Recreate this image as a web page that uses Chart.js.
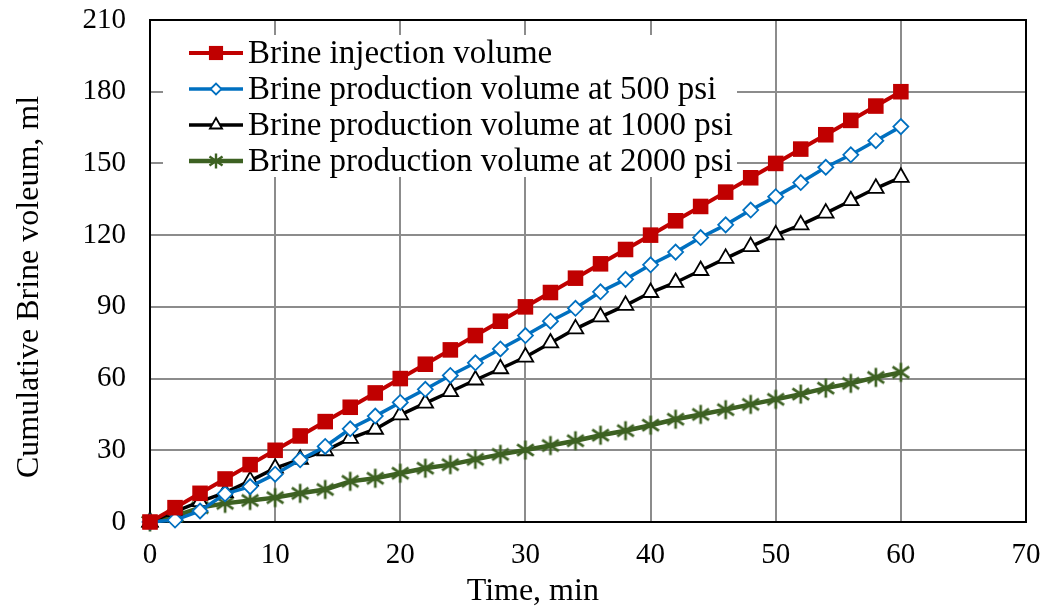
<!DOCTYPE html>
<html>
<head>
<meta charset="utf-8">
<script src="https://cdn.jsdelivr.net/npm/chart.js@4/dist/chart.umd.min.js"></script>
<style>
	body { margin: 0; background: #fff; }
	#wrap { width: 1046px; height: 614px; }
</style>
</head>
<body>
<div id="wrap"><canvas id="chart01"></canvas></div>
<script>
const minutes = [0, 2, 4, 6, 8, 10, 12, 14, 16, 18, 20, 22, 24, 26, 28, 30, 32, 34, 36, 38, 40, 42, 44, 46, 48, 50, 52, 54, 56, 58, 60];

const injection = [0, 6, 12, 18, 24, 30, 36, 42, 48, 54, 60, 66, 72, 78, 84, 90, 96, 102, 108, 114, 120, 126, 132, 138, 144, 150, 156, 162, 168, 174, 180];
const prod500 = [0, 0.8, 4.6, 11.8, 14.8, 20, 26, 31.6, 39, 44.3, 50, 55.5, 61.3, 66.6, 72.4, 78, 84, 89.4, 96.3, 101.5, 107.6, 112.9, 119, 124.3, 130.5, 136.1, 142, 148.4, 153.6, 159.5, 165.4];
const prod1000 = [0, 4.3, 8.5, 12.3, 17.2, 22.5, 26.2, 29.8, 35, 38.8, 44.8, 49.7, 54.5, 59.4, 64.1, 69, 74.9, 80.8, 85.8, 90.6, 96, 100.2, 105.2, 110.3, 115.2, 120.1, 124.3, 129.2, 134.4, 139.6, 144.2];
const prod2000 = [0, 2.5, 6, 7.8, 9, 10.2, 12, 13.6, 17, 18.3, 20.4, 22.5, 24, 26.2, 28.3, 30.1, 32, 34, 36.3, 38.2, 40.5, 43, 45, 47, 49.2, 51.3, 53.5, 56, 58, 60.5, 62.6];

const seriesNames = [
	"Brine injection volume",
	"Brine production volume at 500 psi",
	"Brine production volume at 1000 psi",
	"Brine production volume at 2000 psi",
];

const FONT = "'Liberation Serif', 'Times New Roman', serif";
const GREEN = "#3d6122";

// asterisk marker: vertical bar plus an X
function makeAsterisk(size, width) {
	const cv = document.createElement("canvas");
	cv.width = size;
	cv.height = size;
	const c = cv.getContext("2d");
	const m = size / 2, r = size / 2 - 1.5;
	c.strokeStyle = GREEN;
	c.lineWidth = width;
	c.beginPath();
	c.moveTo(m, m - r); c.lineTo(m, m + r);
	c.moveTo(m - r * 0.87, m - r * 0.6); c.lineTo(m + r * 0.87, m + r * 0.6);
	c.moveTo(m + r * 0.87, m - r * 0.6); c.lineTo(m - r * 0.87, m + r * 0.6);
	c.stroke();
	return cv;
}
const asterisk = makeAsterisk(22, 2.7);
const asteriskSmall = makeAsterisk(18, 2.4);

const toPoints = (values) => values.map((v, i) => ({ x: minutes[i], y: v }));

const datasets = [
	{
		label: seriesNames[0],
		data: toPoints(injection),
		borderColor: "#c00000",
		backgroundColor: "#c00000",
		borderWidth: 4,
		pointStyle: "rect",
		pointRadius: 11,
		pointBorderWidth: 0,
		legendRadius: 10,
	},
	{
		label: seriesNames[1],
		data: toPoints(prod500),
		borderColor: "#0070c0",
		backgroundColor: "#ffffff",
		borderWidth: 3.5,
		pointStyle: "rectRot",
		pointRadius: 7.5,
		pointBorderWidth: 1.8,
		legendRadius: 5.5,
	},
	{
		label: seriesNames[2],
		data: toPoints(prod1000),
		borderColor: "#000000",
		backgroundColor: "#ffffff",
		borderWidth: 3.5,
		pointStyle: "triangle",
		pointRadius: 9,
		pointBorderWidth: 1.8,
		legendRadius: 7,
	},
	{
		label: seriesNames[3],
		data: toPoints(prod2000),
		borderColor: GREEN,
		backgroundColor: GREEN,
		borderWidth: 4.5,
		pointStyle: asterisk,
		pointRadius: 11,
		legendStyle: asteriskSmall,
	},
];
datasets.forEach((d) => { d.clip = false; d.tension = 0; });

// frame round the plot plus the boxed legend in its upper left
const framePlugin = {
	id: "frameAndLegend",
	beforeDatasetsDraw(chart) {
		const { ctx, chartArea: a } = chart;
		ctx.save();
		ctx.strokeStyle = "#000";
		ctx.lineWidth = 2;
		ctx.strokeRect(a.left, a.top, a.right - a.left, a.bottom - a.top);

		const bx = a.left + 13, by = a.top + 15, bw = 574, bh = 142;
		ctx.fillStyle = "#fff";
		ctx.fillRect(bx, by, bw, bh);

		ctx.font = "33px " + FONT;
		ctx.textBaseline = "middle";
		chart.data.datasets.forEach((ds, i) => {
			const y = by + 18 + i * 36;
			ctx.strokeStyle = ds.borderColor;
			ctx.lineWidth = ds.borderWidth;
			ctx.beginPath();
			ctx.moveTo(bx + 26, y);
			ctx.lineTo(bx + 80, y);
			ctx.stroke();
			ctx.fillStyle = ds.backgroundColor;
			ctx.strokeStyle = ds.borderColor;
			ctx.lineWidth = ds.pointBorderWidth || 0;
			Chart.helpers.drawPoint(ctx, {
				pointStyle: ds.legendStyle || ds.pointStyle,
				radius: ds.legendRadius || 8,
				rotation: 0,
				borderWidth: ds.pointBorderWidth || 0,
			}, bx + 53, y);
			ctx.fillStyle = "#000";
			ctx.fillText(ds.label, bx + 85, y + 1);
		});
		ctx.restore();
	},
	afterDraw(chart) {
		const { ctx, chartArea: a } = chart;
		ctx.save();
		ctx.fillStyle = "#000";
		ctx.font = "32px " + FONT;
		ctx.textAlign = "center";
		ctx.textBaseline = "middle";
		ctx.fillText("Time, min", a.left + (a.right - a.left) * 0.437, 592);
		ctx.translate(30, (a.top + a.bottom) / 2 + 16);
		ctx.rotate(-Math.PI / 2);
		ctx.fillText("Cumulative Brine voleum, ml", 0, 0);
		ctx.restore();
	},
};

const tickFont = { family: FONT, size: 29 };

const options = {
	responsive: true,
	maintainAspectRatio: false,
	animation: false,
	layout: {
		padding: { top: 20, right: 20, left: 0, bottom: 0 },
	},
	plugins: {
		legend: { display: false },
		tooltip: { enabled: false },
	},
	scales: {
		x: {
			type: "linear",
			min: 0,
			max: 70,
			ticks: { stepSize: 10, color: "#000", font: tickFont, padding: 16, maxRotation: 0 },
			grid: { color: "#8c8c8c", lineWidth: 2, drawTicks: false },
			border: { color: "#000", width: 2 },
			afterFit(scale) {
				scale.height = 92;
				scale.paddingLeft = 0;
				scale.paddingRight = 0;
			},
		},
		y: {
			min: 0,
			max: 210,
			ticks: { stepSize: 30, color: "#000", font: tickFont, padding: 24 },
			grid: { color: "#8c8c8c", lineWidth: 2, drawTicks: false },
			border: { color: "#000", width: 2 },
			afterFit(scale) {
				scale.width = 150;
				scale.paddingTop = 0;
				scale.paddingBottom = 0;
			},
		},
	},
};

new Chart(document.querySelector("#chart01"), {
	type: "line",
	data: { datasets },
	options,
	plugins: [framePlugin],
});
</script>
</body>
</html>
